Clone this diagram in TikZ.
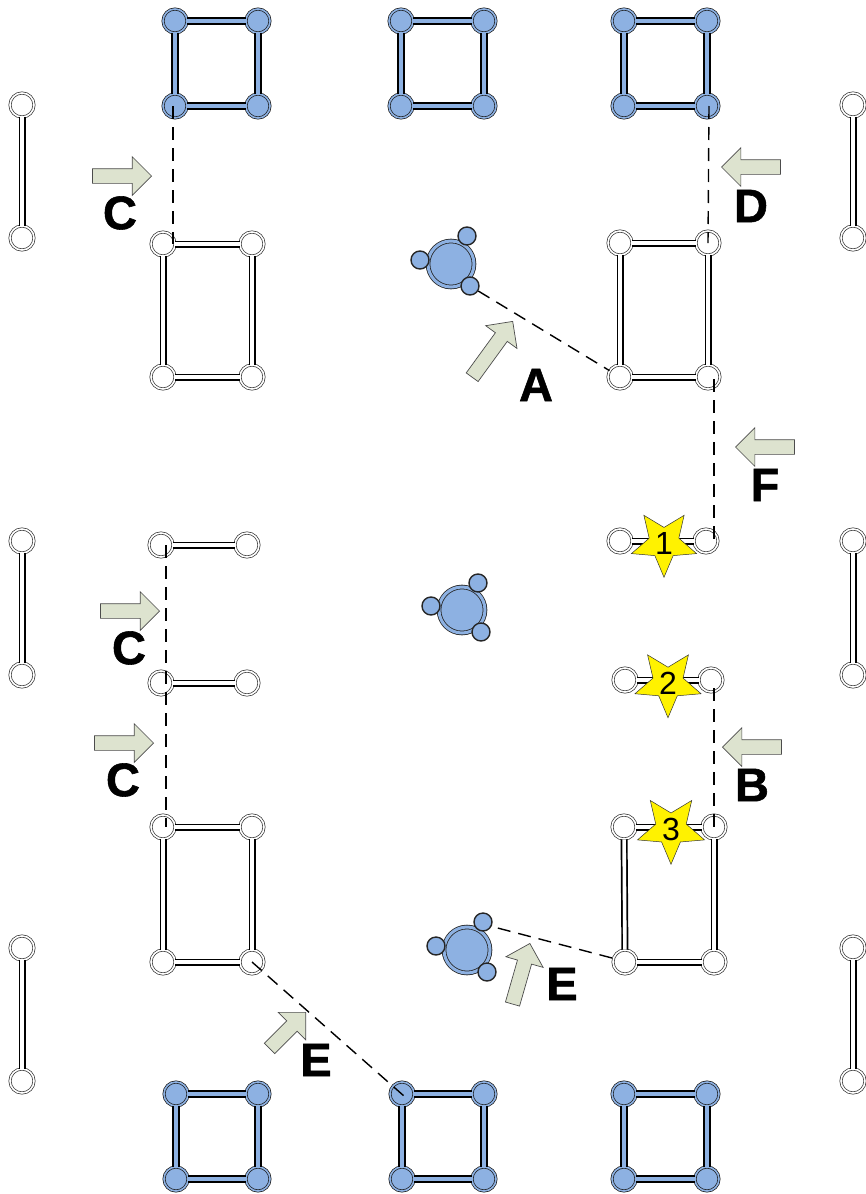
\documentclass[tikz,border=0pt]{standalone}
\usepackage{fontspec}
\setmainfont[BoldFeatures={FakeBold=1.2}]{Liberation Sans}
\usetikzlibrary{shapes.geometric,shapes.arrows}

\definecolor{hubblue}{HTML}{8DB1E2}
\definecolor{arrowgreen}{HTML}{DDE3CF}
\tikzset{
    hole/.style={circle, draw=black!80, fill=white, double=white, double distance=1.6pt, line width=0.7pt, minimum size=24pt, inner sep=0pt},
    pin/.style={hole, fill=hubblue, double=hubblue, draw=black!90},
    whitebar/.style={every edge/.style={draw=black, line width=1.7pt, double=white, double distance=3.6pt}},
    bluebar/.style={every edge/.style={draw=black, line width=1.9pt, double=hubblue, double distance=3.4pt}},
    hub/.style={circle, draw=black!85, fill=hubblue, double=hubblue, double distance=3pt, line width=0.8pt, minimum size=46pt, inner sep=0pt},
    lug/.style={circle, draw=black!85, fill=hubblue, line width=1.4pt, minimum size=18pt, inner sep=0pt},
    cut/.style={every edge/.style={draw=black, line width=1.4pt, dash pattern=on 13pt off 8pt}},
    blockarrow/.style={single arrow, draw=black!70, fill=arrowgreen, line width=0.7pt, single arrow head extend=12pt, single arrow head indent=0pt, inner sep=7pt, anchor=tip},
    burst/.style={star, star points=5, star point ratio=2.2, shape border rotate=180, draw=black!80, fill=yellow, line width=0.5pt, minimum size=66pt, inner sep=0pt, font=\fontsize{32}{32}\selectfont},
    tag/.style={font=\fontsize{47}{47}\selectfont\bfseries, inner sep=0pt}
}

\begin{document}
\begin{tikzpicture}[x=1pt, y=-1pt]
        \useasboundingbox (0,0) rectangle (866,1194);

        % top squares
        \node[pin] (t1a) at (175,21) {};
        \node[pin, right of=t1a, node distance=83pt] (t1b) {};
        \node[pin, below of=t1a, node distance=85pt] (t1c) {};
        \node[pin, right of=t1c, node distance=83pt] (t1d) {};
        \node[pin] (t2a) at (401,21) {};
        \node[pin, right of=t2a, node distance=83pt] (t2b) {};
        \node[pin, below of=t2a, node distance=85pt] (t2c) {};
        \node[pin, right of=t2c, node distance=83pt] (t2d) {};
        \node[pin] (t3a) at (624,21) {};
        \node[pin, right of=t3a, node distance=83pt] (t3b) {};
        \node[pin, below of=t3a, node distance=85pt] (t3c) {};
        \node[pin, right of=t3c, node distance=83pt] (t3d) {};

        % bottom squares
        \node[pin] (b1a) at (176,1094) {};
        \node[pin, right of=b1a, node distance=82pt] (b1b) {};
        \node[pin, below of=b1a, node distance=85pt] (b1c) {};
        \node[pin, right of=b1c, node distance=82pt] (b1d) {};
        \node[pin] (b2a) at (402,1094) {};
        \node[pin, right of=b2a, node distance=82pt] (b2b) {};
        \node[pin, below of=b2a, node distance=85pt] (b2c) {};
        \node[pin, right of=b2c, node distance=82pt] (b2d) {};
        \node[pin] (b3a) at (624,1094) {};
        \node[pin, right of=b3a, node distance=83pt] (b3b) {};
        \node[pin, below of=b3a, node distance=85pt] (b3c) {};
        \node[pin, right of=b3c, node distance=83pt] (b3d) {};

        % side rods
        \node[hole] (l1a) at (22,105) {};
        \node[hole, below of=l1a, node distance=133pt] (l1b) {};
        \node[hole] (l2a) at (22,541) {};
        \node[hole, below of=l2a, node distance=134pt] (l2b) {};
        \node[hole] (l3a) at (22,948) {};
        \node[hole, below of=l3a, node distance=133pt] (l3b) {};
        \node[hole] (r1a) at (853,105) {};
        \node[hole, below of=r1a, node distance=133pt] (r1b) {};
        \node[hole] (r2a) at (853,541) {};
        \node[hole, below of=r2a, node distance=134pt] (r2b) {};
        \node[hole] (r3a) at (853,948) {};
        \node[hole, below of=r3a, node distance=133pt] (r3b) {};

        % frames
        \node[hole] (f1a) at (163,244) {};
        \node[hole, right of=f1a, node distance=89pt] (f1b) {};
        \node[hole, below of=f1a, node distance=133pt] (f1c) {};
        \node[hole, right of=f1c, node distance=89pt] (f1d) {};
        \node[hole] (f2a) at (620,243) {};
        \node[hole, right of=f2a, node distance=88pt] (f2b) {};
        \node[hole, below of=f2a, node distance=134pt] (f2c) {};
        \node[hole, right of=f2c, node distance=88pt] (f2d) {};
        \node[hole] (f3a) at (163,827) {};
        \node[hole, right of=f3a, node distance=89pt] (f3b) {};
        \node[hole, below of=f3a, node distance=135pt] (f3c) {};
        \node[hole, right of=f3c, node distance=89pt] (f3d) {};
        \node[hole] (f4a) at (624,827) {};
        \node[hole, right of=f4a, node distance=90pt] (f4b) {};
        \node[hole] (f4c) at (625,962) {};
        \node[hole, right of=f4c, node distance=89pt] (f4d) {};

        % single bars
        \node[hole] (m1a) at (161,545) {};
        \node[hole, right of=m1a, node distance=86pt] (m1b) {};
        \node[hole] (m2a) at (161,683) {};
        \node[hole, right of=m2a, node distance=86pt] (m2b) {};
        \node[hole] (m3a) at (620,541) {};
        \node[hole, right of=m3a, node distance=86pt] (m3b) {};
        \node[hole] (m4a) at (625,680) {};
        \node[hole, right of=m4a, node distance=86pt] (m4b) {};

        \path[bluebar]
        (t1a) edge (t1b) (t1a) edge (t1c) (t1b) edge (t1d) (t1c) edge (t1d)
        (t2a) edge (t2b) (t2a) edge (t2c) (t2b) edge (t2d) (t2c) edge (t2d)
        (t3a) edge (t3b) (t3a) edge (t3c) (t3b) edge (t3d) (t3c) edge (t3d)
        (b1a) edge (b1b) (b1a) edge (b1c) (b1b) edge (b1d) (b1c) edge (b1d)
        (b2a) edge (b2b) (b2a) edge (b2c) (b2b) edge (b2d) (b2c) edge (b2d)
        (b3a) edge (b3b) (b3a) edge (b3c) (b3b) edge (b3d) (b3c) edge (b3d);

        \path[whitebar]
        (l1a) edge (l1b) (l2a) edge (l2b) (l3a) edge (l3b)
        (r1a) edge (r1b) (r2a) edge (r2b) (r3a) edge (r3b)
        (f1a) edge (f1b) (f1a) edge (f1c) (f1b) edge (f1d) (f1c) edge (f1d)
        (f2a) edge (f2b) (f2a) edge (f2c) (f2b) edge (f2d) (f2c) edge (f2d)
        (f3a) edge (f3b) (f3a) edge (f3c) (f3b) edge (f3d) (f3c) edge (f3d)
        (f4a) edge (f4b) (f4a) edge (f4c) (f4b) edge (f4d) (f4c) edge (f4d)
        (m1a) edge (m1b) (m2a) edge (m2b) (m3a) edge (m3b) (m4a) edge (m4b);

        % hubs
        \node[hub] (h1) at (451,264) {};
        \node[lug] (h1a) at (467,236) {};
        \node[lug] (h1b) at (420,260) {};
        \node[lug] (h1c) at (470,286) {};
        \node[hub] (h2) at (462,610) {};
        \node[lug] (h2a) at (478,583) {};
        \node[lug] (h2b) at (431,606) {};
        \node[lug] (h2c) at (481,632) {};
        \node[hub] (h3) at (467,950) {};
        \node[lug] (h3a) at (483,922) {};
        \node[lug] (h3b) at (436,946) {};
        \node[lug] (h3c) at (487,972) {};

        % failure numbers
        \node[burst] (s1) at (664,543) {1};
        \node[burst] (s2) at (668,683) {2};
        \node[burst] (s3) at (671,829) {3};

        % cut lines
        \coordinate (c1a) at (173,106);
        \coordinate (c1b) at (173,244);
        \coordinate (d1a) at (709,106);
        \coordinate (d1b) at (708,243);
        \coordinate (f1top) at (714,379);
        \coordinate (f1bot) at (714,540);
        \coordinate (c2a) at (166,545);
        \coordinate (c2b) at (166,827);
        \coordinate (b1top) at (714,688);
        \coordinate (b1bot) at (714,827);
        \coordinate (e1a) at (490,926);
        \coordinate (e1b) at (612,958);
        \coordinate (e2a) at (252,962);
        \coordinate (e2b) at (404,1096);
        \path[cut]
        (c1a) edge (c1b)
        (d1a) edge (d1b)
        (h1c) edge (f2c)
        (f1top) edge (f1bot)
        (c2a) edge (c2b)
        (b1top) edge (b1bot)
        (e1b) edge (e1a)
        (e2a) edge (e2b);

        % view arrows
        \node[blockarrow, minimum height=59pt] (ac1) at (152,176) {};
        \node[blockarrow, minimum height=59pt, rotate=180] (ad) at (721,167) {};
        \node[blockarrow, minimum height=59pt, rotate=180] (af) at (735,447) {};
        \node[blockarrow, minimum height=59pt] (ac2) at (160,611) {};
        \node[blockarrow, minimum height=59pt] (ac3) at (154,743) {};
        \node[blockarrow, minimum height=59pt, rotate=180] (ab) at (722,747) {};
        \node[blockarrow, minimum height=69pt, rotate=54] (aa) at (513,321) {};
        \node[blockarrow, minimum height=63pt, rotate=74] (ae1) at (530,943) {};
        \node[blockarrow, minimum height=51pt, rotate=45] (ae2) at (306,1012) {};

        \node[tag] (lc1) at (120,213) {C};
        \node[tag] (ld) at (751,206) {D};
        \node[tag] (la) at (536,385) {A};
        \node[tag] (lf) at (765,485) {F};
        \node[tag] (lc2) at (129,648) {C};
        \node[tag] (lc3) at (123,780) {C};
        \node[tag] (lb) at (752,785) {B};
        \node[tag] (le1) at (562,984) {E};
        \node[tag] (le2) at (316,1060) {E};
    \end{tikzpicture}
\end{document}
